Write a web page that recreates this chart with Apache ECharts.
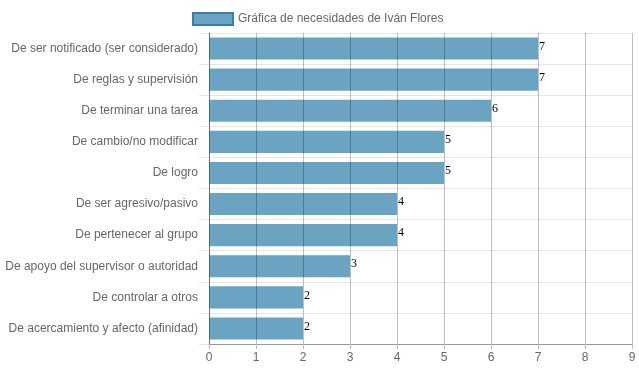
<!DOCTYPE html>
<html><head><meta charset="utf-8">
<script src="https://cdn.jsdelivr.net/npm/echarts@6/dist/echarts.min.js"></script>
<style>html,body{margin:0;padding:0;background:#fff}#c{width:639px;height:372px}</style>
</head><body><div id="c"></div>
<script>
const categories = ["De ser notificado (ser considerado)","De reglas y supervisión","De terminar una tarea","De cambio/no modificar","De logro","De ser agresivo/pasivo","De pertenecer al grupo","De apoyo del supervisor o autoridad","De controlar a otros","De acercamiento y afecto (afinidad)"];
const values = [7,7,6,5,5,4,4,3,2,2];
const xTicks = [0,9,1];
const chart = echarts.init(document.getElementById('c'));
chart.setOption({
  animation:false,
  legend:{top:7,left:187,itemWidth:40,itemHeight:12,itemGap:8,icon:'rect',textStyle:{color:'#666',fontSize:12,fontFamily:'Arial, Liberation Sans',padding:[0,0,0,0]},
    data:[{name:'Gráfica de necesidades de Iván Flores',itemStyle:{color:'rgba(70,140,180,0.8)',borderColor:'#3a7fa8',borderWidth:2}}]},
  grid:{left:209,right:7,top:33,bottom:28,containLabel:false},
  xAxis:{type:'value',min:xTicks[0],max:xTicks[1],interval:xTicks[2],
    axisLine:{show:true,lineStyle:{color:'#999'}},axisTick:{show:true,length:5,lineStyle:{color:'#bbb'}},
    axisLabel:{color:'#666',fontSize:12,fontFamily:'Arial, Liberation Sans',margin:8},
    splitLine:{show:true,lineStyle:{color:'rgba(0,0,0,0.25)'}},z:10},
  yAxis:{type:'category',data:categories,inverse:true,
    axisLine:{show:true,lineStyle:{color:'#999'}},
    axisTick:{show:true,length:10,lineStyle:{color:'#e6e6e6'}},
    axisLabel:{color:'#666',fontSize:12,fontFamily:'Arial, Liberation Sans',margin:11},
    splitLine:{show:true,lineStyle:{color:'#e6e6e6'}}},
  series:[{type:'bar',name:'Gráfica de necesidades de Iván Flores',data:values,barCategoryGap:'29%',
    itemStyle:{color:'rgba(70,140,180,0.8)'},
    label:{show:true,position:'right',distance:1,offset:[0,-2],color:'#000',fontSize:12,fontFamily:'Liberation Serif, serif'}}]
});
</script></body></html>
